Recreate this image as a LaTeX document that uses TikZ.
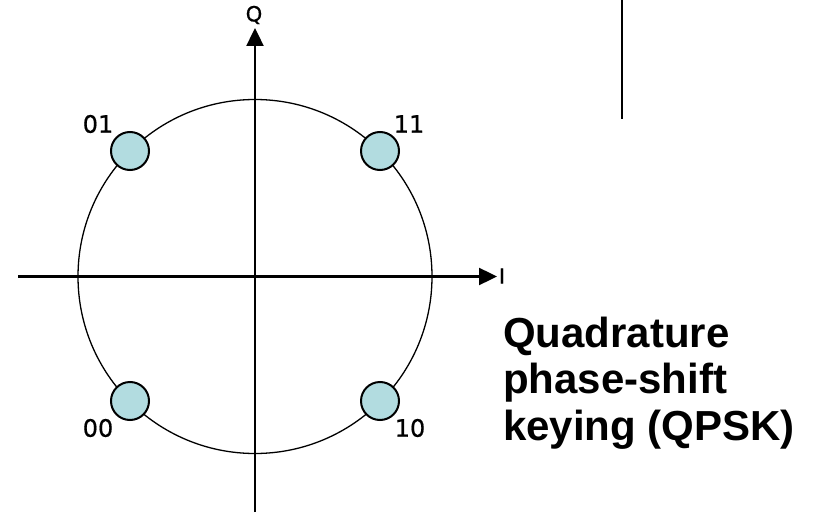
\documentclass[tikz,border=0pt]{standalone}
\usepackage{fontspec}
\setmainfont{DejaVu Sans}
\newfontfamily\labfont[FakeBold=0.7]{DejaVu Sans}
\newfontfamily\titlefont{Liberation Sans}
\usetikzlibrary{arrows.meta}
\definecolor{ptfill}{RGB}{178,220,224}
\begin{document}
\begin{tikzpicture}[x=1pt,y=-1pt,
  axisline/.style={line width=2.4pt,-{Triangle[length=18pt,width=17pt]}},
  ring/.style={line width=1.3pt},
  sym/.style={circle,draw,line width=2pt,fill=ptfill,minimum size=38pt,inner sep=0pt},
  bits/.style={font=\labfont\fontsize{24}{28}\selectfont,inner sep=0pt},
  axlbl/.style={font=\labfont\fontsize{21}{24}\selectfont,inner sep=0pt},
  title/.style={font=\titlefont\bfseries\fontsize{42}{46.5}\selectfont,align=left,inner sep=0pt,anchor=base west}]
\useasboundingbox (0,0) rectangle (813,513);
\coordinate (o) at (255,276.5);
\coordinate (xl) at (18,276.5);
\coordinate (xr) at (497,276.5);
\coordinate (yb) at (255,512);
\coordinate (yt) at (255,28);
\coordinate (vt) at (622,0);
\coordinate (vb) at (622,119);
\draw[ring] (o) circle[radius=177];
\draw[axisline] (xl) -- (xr);
\draw[axisline] (yb) -- (yt);
\draw[line width=1.6pt] (vt) -- (vb);
\node[axlbl] (qlbl) at (254,15) {Q};
\node[axlbl] (ilbl) at (502,276) {I};
\node[sym] (p01) at (130,151) {};
\node[sym] (p11) at (380,151) {};
\node[sym] (p00) at (130,401) {};
\node[sym] (p10) at (380,401) {};
\node[bits] (l01) at (98,124) {01};
\node[bits] (l11) at (409,124) {11};
\node[bits] (l00) at (98,428) {00};
\node[bits] (l10) at (410,428) {10};
\node[title] (ttl) at (503,440) {Quadrature\\phase-shift\\keying (QPSK)};
\end{tikzpicture}
\end{document}
